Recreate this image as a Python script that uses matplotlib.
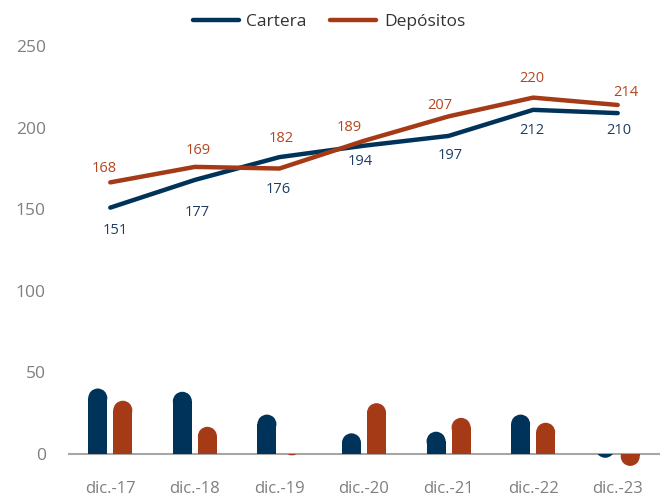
import matplotlib
matplotlib.use("Agg")
import matplotlib.pyplot as plt
from matplotlib.patches import Rectangle, Ellipse
import numpy as np

plt.rcParams["font.family"] = ["Open Sans", "DejaVu Sans"]

fechas = ["dic.-17", "dic.-18", "dic.-19", "dic.-20", "dic.-21", "dic.-22", "dic.-23"]

# lineas (posicion) y sus etiquetas
cartera = [151, 168, 182, 189, 195, 211, 209]
depositos = [166.5, 176, 175, 192, 207, 218.5, 214]
cartera_lbl = ["151", "177", "176", "194", "197", "212", "210"]
depositos_lbl = ["168", "169", "182", "189", "207", "220", "214"]

# barras
cartera_bar = [40, 38, 24, 12.5, 13.5, 24, -2.5]
depositos_bar = [32.5, 16.5, -1, 31, 22, 19, -7.5]

azul = "#00335A"
rojo = "#A53A17"
gris = "#7F7F7F"

# desplazamientos de etiquetas en pixeles
cart_off = [(5, -23), (2, -33), (-1, -32), (-4, -16), (2, -20), (-1, -21), (1, -17)]
dep_off = [(-6, 14), (3, 16), (2, 30), (-15, 13), (-9, 11), (-1, 19), (8, 12)]

fig = plt.figure(figsize=(6.64, 4.96), dpi=100)
ax = fig.add_axes([68 / 664, 26 / 496, 592 / 664, 440 / 496])
ax.set_xlim(-0.5, 6.5)
ax.set_ylim(-10, 260)

x = np.arange(len(fechas))
bw = 0.225
off = 0.148

# radio del extremo redondeado en unidades de datos
px_per_unit = 440 / 270
r_data = (bw * 592 / 7 / 2) / px_per_unit


def barra(xc, v, color):
    c = v - np.sign(v) * r_data
    if v >= 0:
        clip = Rectangle((xc - 1, 0), 2, 1000, transform=ax.transData)
    else:
        clip = Rectangle((xc - 1, -1000), 2, 1000, transform=ax.transData)
    b = ax.bar(xc, c, bw, color=color, linewidth=0, zorder=2)
    for p in b:
        p.set_clip_path(clip)
    e = Ellipse((xc, c), bw, 2 * r_data, facecolor=color, linewidth=0, zorder=2)
    ax.add_patch(e)
    e.set_clip_path(clip)


for i in range(len(fechas)):
    barra(x[i] - off, cartera_bar[i], azul)
    barra(x[i] + off, depositos_bar[i], rojo)

ax.axhline(0, color="#A6A6A6", linewidth=1.5, zorder=1)

ax.plot(x, cartera, color=azul, linewidth=3.2, solid_capstyle="round",
        solid_joinstyle="miter", label="Cartera", zorder=3)
ax.plot(x, depositos, color=rojo, linewidth=3.2, solid_capstyle="round",
        solid_joinstyle="miter", label="Depósitos", zorder=3)

for i in range(len(fechas)):
    ax.annotate(cartera_lbl[i], (x[i], cartera[i]), xytext=cart_off[i],
                textcoords="offset pixels", ha="center", va="center",
                fontsize=10.5, color="#1F3D63")
    ax.annotate(depositos_lbl[i], (x[i], depositos[i]), xytext=dep_off[i],
                textcoords="offset pixels", ha="center", va="center",
                fontsize=10.5, color="#B4461E")

for s in ax.spines.values():
    s.set_visible(False)
ax.set_yticks(range(0, 251, 50))
ax.set_xticks(x)
ax.set_xticklabels(fechas)
ax.tick_params(axis="y", length=0, pad=16, labelsize=12.5, labelcolor=gris)
ax.tick_params(axis="x", length=0, pad=8, labelsize=12, labelcolor=gris)

leg = fig.legend(loc="center", bbox_to_anchor=(329 / 664, 1 - 22 / 496), ncol=2, frameon=False,
                 fontsize=12.5, handlelength=2.65, columnspacing=1.35, handletextpad=0.45)
for t in leg.get_texts():
    t.set_color("#333333")

fig.savefig("out.png", dpi=100)
